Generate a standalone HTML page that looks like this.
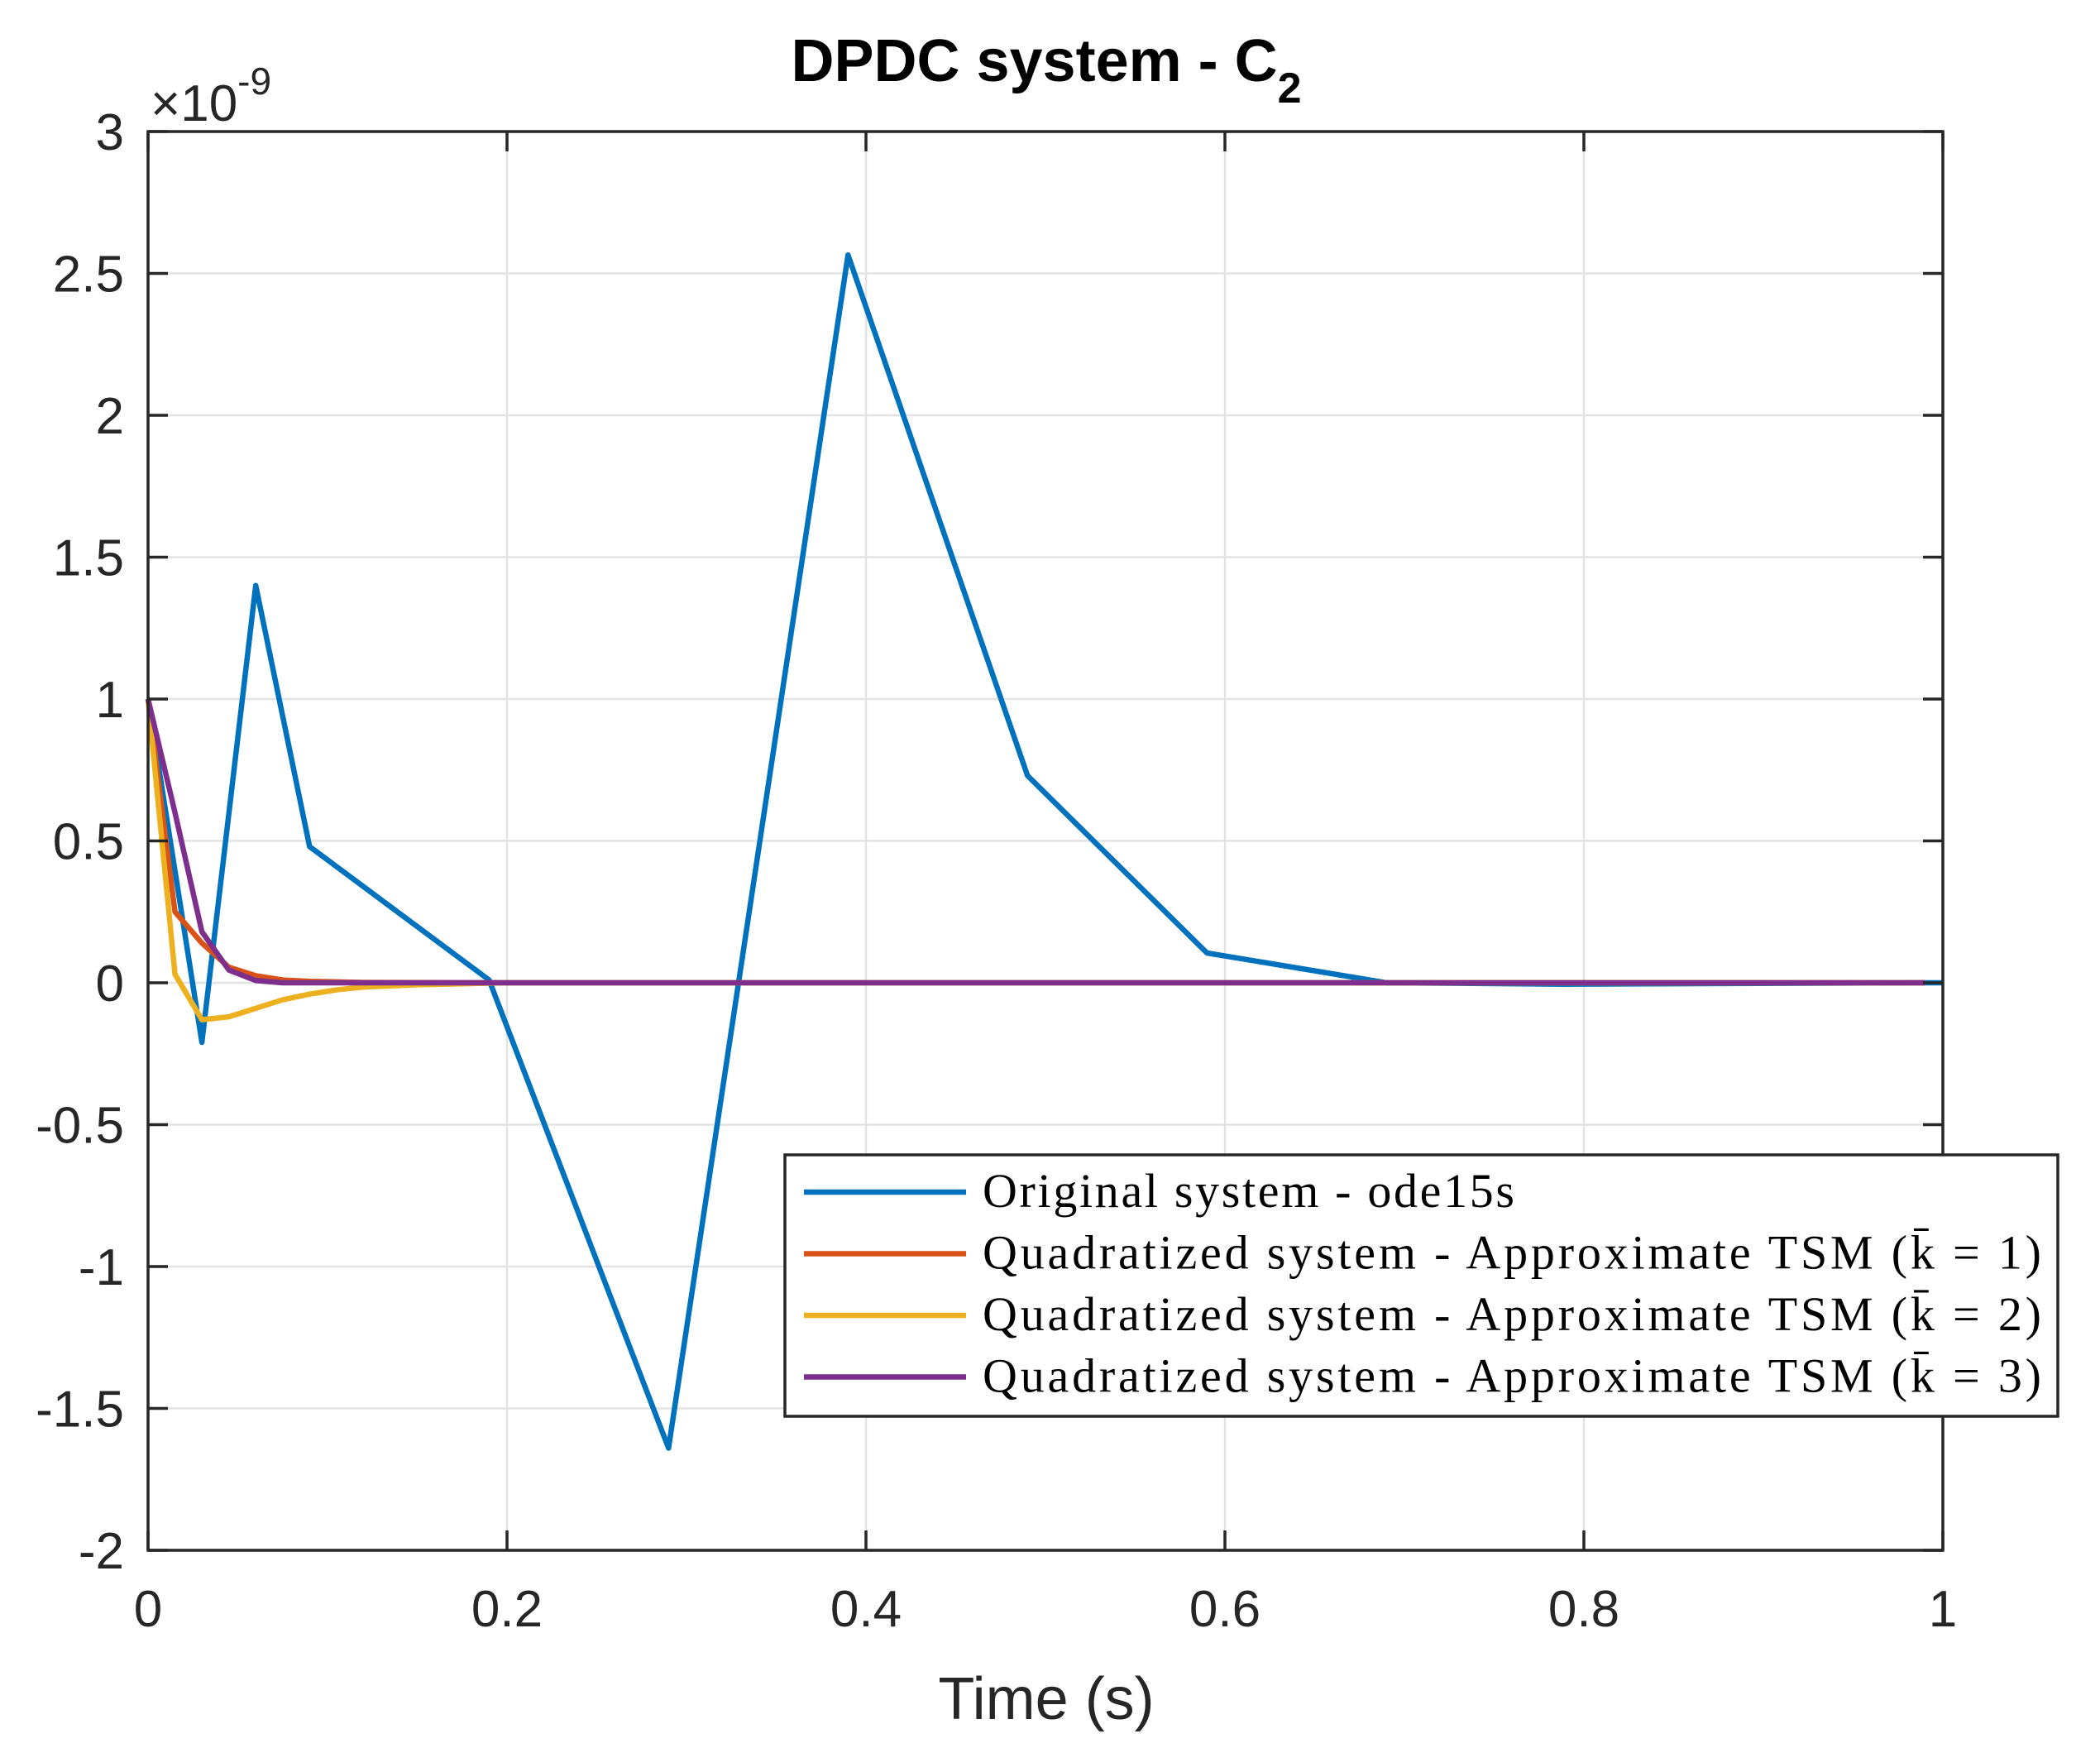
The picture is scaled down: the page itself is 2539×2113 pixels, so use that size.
<!DOCTYPE html>
<html><head><meta charset="utf-8"><style>
html,body{margin:0;padding:0;background:#fff}
svg{display:block}
</style></head><body>
<svg id="chart" width="2539" height="2113" xmlns="http://www.w3.org/2000/svg" font-family="Liberation Sans, sans-serif">
<rect width="2539" height="2113" fill="#fff"/>
<g id="grid"></g>
<g id="series"></g>
<g id="axes"></g>
<text x="1265" y="98" text-anchor="middle" font-size="72" font-weight="bold" fill="#000">DPDC system - C<tspan font-size="52" dy="26">2</tspan></text>
<text x="182" y="146" font-size="62" fill="#262626">×10<tspan font-size="46" dy="-32">-9</tspan></text>
<text x="1265" y="2078" text-anchor="middle" font-size="72" fill="#262626">Time (s)</text>
<g id="legend"></g>
</svg>
<script>
const xTicks=[0,0.2,0.4,0.6,0.8,1];
const xTickLabels=["0","0.2","0.4","0.6","0.8","1"];
const yTicks=[-2,-1.5,-1,-0.5,0,0.5,1,1.5,2,2.5,3];
const yTickLabels=["-2","-1.5","-1","-0.5","0","0.5","1","1.5","2","2.5","3"];
const tOrig=[0,0.03,0.06,0.09,0.19,0.29,0.39,0.49,0.59,0.69,0.79,0.99,1];
const yOrig=[1.0,-0.21,1.40,0.48,0.01,-1.64,2.565,0.73,0.105,0.0,-0.005,0,0];
const tK1=[0,0.015,0.03,0.045,0.06,0.075,0.09,0.12,0.2,0.99];
const yK1=[1,0.25,0.14,0.055,0.025,0.01,0.005,0.001,0,0];
const tK2=[0,0.015,0.03,0.045,0.06,0.075,0.09,0.105,0.12,0.15,0.18,0.2,0.99];
const yK2=[1,0.03,-0.13,-0.12,-0.09,-0.06,-0.04,-0.025,-0.015,-0.007,-0.003,0,0];
const tK3=[0,0.015,0.03,0.045,0.06,0.075,0.99];
const yK3=[1,0.6,0.18,0.045,0.008,0,0];
const legendLabels=["Original system - ode15s","Quadratized system - Approximate TSM (k̄ = 1)","Quadratized system - Approximate TSM (k̄ = 2)","Quadratized system - Approximate TSM (k̄ = 3)"];
const colors=["#0072BD","#D95319","#EDB120","#7E2F8E"];

const L=179,R=2349,T=159,B=1874,X0=0,X1=1,Y0=-2,Y1=3;
const sx=v=>L+(v-X0)/(X1-X0)*(R-L);
const sy=v=>B-(v-Y0)/(Y1-Y0)*(B-T);
const NS="http://www.w3.org/2000/svg";
function mk(tag,attrs,parent){const e=document.createElementNS(NS,tag);for(const k in attrs)e.setAttribute(k,attrs[k]);parent.appendChild(e);return e;}
const grid=document.getElementById('grid'),axes=document.getElementById('axes'),ser=document.getElementById('series'),leg=document.getElementById('legend');
xTicks.forEach((v,i)=>{
  const g=mk('line',{x1:sx(v),x2:sx(v),y1:T,y2:B,stroke:'#e3e3e3','stroke-width':2.5},grid);
  
  
  const t1=mk('line',{x1:sx(v),x2:sx(v),y1:B,y2:B-24,stroke:'#262626','stroke-width':3.5},axes);
  
  
  const t2=mk('line',{x1:sx(v),x2:sx(v),y1:T,y2:T+24,stroke:'#262626','stroke-width':3.5},axes);
  
  
  const lb=mk('text',{x:sx(v),y:1966,'text-anchor':'middle','font-size':62,fill:'#262626'},axes);
  lb.textContent=xTickLabels[i];
  
  
});
yTicks.forEach((v,i)=>{
  const g=mk('line',{x1:L,x2:R,y1:sy(v),y2:sy(v),stroke:'#e3e3e3','stroke-width':2.5},grid);
  
  
  const t1=mk('line',{x1:L,x2:L+24,y1:sy(v),y2:sy(v),stroke:'#262626','stroke-width':3.5},axes);
  
  
  const t2=mk('line',{x1:R,x2:R-24,y1:sy(v),y2:sy(v),stroke:'#262626','stroke-width':3.5},axes);
  
  
  const lb=mk('text',{x:150,y:sy(v)+22,'text-anchor':'end','font-size':62,fill:'#262626'},axes);
  lb.textContent=yTickLabels[i];
  
  
});
const frame=mk('rect',{x:L,y:T,width:R-L,height:B-T,fill:'none',stroke:'#262626','stroke-width':3.5},axes);


const series=[[tOrig,yOrig],[tK1,yK1],[tK2,yK2],[tK3,yK3]];
const snames=['series-original','series-k1','series-k2','series-k3'];
series.forEach((s,i)=>{
  const pts=s[0].map((t,j)=>sx(t)+','+sy(s[1][j])).join(' ');
  const p=mk('polyline',{points:pts,fill:'none',stroke:colors[i],'stroke-width':6.5,'stroke-linejoin':'round'},ser);
  
  
});
const box=mk('rect',{x:949,y:1396,width:1539,height:316,fill:'#fff',stroke:'#262626','stroke-width':3.5},leg);


legendLabels.forEach((s,i)=>{
  const y=1441+i*74.5;
  const ln=mk('line',{x1:972,x2:1168,y1:y,y2:y,stroke:colors[i],'stroke-width':6.5},leg);
  
  
  const tx=mk('text',{x:1188,y:y+18,'font-family':'Liberation Serif, serif','font-size':58,fill:'#000'},leg);
  tx.textContent=s;
  tx.setAttribute('textLength',i>0?1280:643);
  
  
});
</script>
</body></html>
